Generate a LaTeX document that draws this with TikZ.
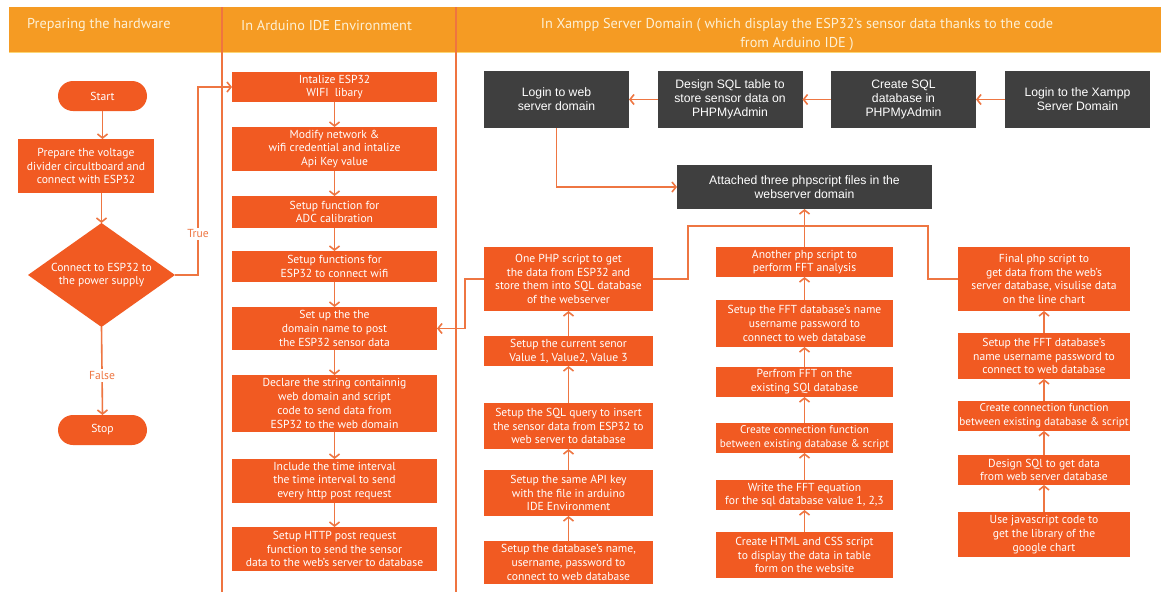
\documentclass[tikz,border=0pt]{standalone}
\usepackage{fontspec}
\setmainfont{PT Sans}
\newfontfamily\arialf{Liberation Sans}
\usetikzlibrary{arrows.meta,shapes.geometric}
\definecolor{band}{HTML}{F59B23}
\definecolor{bandline}{HTML}{FCD675}
\definecolor{headtxt}{HTML}{FDF0D5}
\definecolor{boxor}{HTML}{F15A22}
\definecolor{conncol}{HTML}{EE7642}
\definecolor{sepcol}{HTML}{EF7440}
\definecolor{darkbox}{HTML}{3F3F3F}
\begin{document}
\begin{tikzpicture}[x=1pt,y=-1pt,
  ob/.style={fill=boxor, text=white, align=center, inner sep=0pt, outer sep=0pt,
    font=\fontsize{11.6}{13.8}\selectfont},
  obtight/.style={ob, font=\fontsize{11.2}{13.8}\selectfont},
  pill/.style={ob, rounded corners=15pt, minimum width=89pt, minimum height=30pt},
  db/.style={fill=darkbox, text=white, align=center, inner sep=0pt, outer sep=0pt,
    minimum width=145pt, minimum height=57pt, font=\arialf\fontsize{12.2}{13.8}\selectfont},
  conn/.style={draw=conncol, line width=1.6pt, -{Straight Barb[length=4pt,width=10pt,line width=1.6pt]}},
  link/.style={draw=conncol, line width=1.6pt},
  lbl/.style={text=conncol, fill=white, inner sep=2pt, font=\fontsize{11.6}{13}\selectfont},
  head/.style={text=headtxt, font=\fontsize{14.3}{19}\selectfont, inner sep=0pt, align=center}
]
\useasboundingbox (0,0) rectangle (1161,592);
\fill[white] (0,0) rectangle (1161,592);
% header band
\fill[band] (9,7) rectangle (1161,52);
\draw[bandline, line width=1.5pt] (9,52.5) -- (1161,52.5);
\node[head, anchor=west] (h1) at (27,25) {Preparing the hardware};
\node[head, anchor=west] (h2) at (241,25) {In Arduino IDE Environment};
\node[head] (h3) at (797,34.5) {In Xampp Server Domain ( which display the ESP32's sensor data thanks to the code\\from Arduino IDE )};
% separators
\draw[sepcol, line width=1.6pt] (222,7) -- (222,592);
\draw[sepcol, line width=1.6pt] (456,7) -- (456,592);

% left column
\node[pill] (start) at (102.5,96) {Start};
\node[ob, minimum width=136pt, minimum height=54pt] (prep) at (86,166) {Prepare the voltage\\divider circultboard and\\connect with ESP32};
\node[ob, diamond, aspect=1.41, minimum width=147pt, minimum height=104pt] (dia) at (101.5,275) {Connect to ESP32 to\\the power supply};
\node[pill] (stop) at (102.5,430) {Stop};
\draw[conn] (start.south) -- (start.south |- prep.north);
\draw[conn] (dia.north |- prep.south) -- (dia.north);
\draw[conn] (dia.south) -- node[lbl, pos=0.55] {False} (stop.north);
\coordinate (t1) at (198,275);
\coordinate (t2) at (198,87);

% middle column
\node[ob, minimum width=205pt, minimum height=30pt] (m1) at (334.5,87) {Intalize ESP32\\WIFI\ \ libary};
\node[ob, minimum width=205pt, minimum height=44pt] (m2) at (334.5,149) {Modify network \&\\wifi credential and intalize\\Api Key value};
\node[ob, minimum width=205pt, minimum height=32pt] (m3) at (334.5,212) {Setup function for\\ADC calibration};
\node[ob, minimum width=205pt, minimum height=31pt] (m4) at (334.5,266.5) {Setup functions for\\ESP32 to connect wifi};
\node[ob, minimum width=205pt, minimum height=43pt] (m5) at (334.5,328.5) {Set up the the\\domain name to post\\the ESP32 sensor data};
\node[ob, minimum width=205pt, minimum height=57pt] (m6) at (334.5,403.5) {Declare the string containnig\\web domain and script\\code to send data from\\ESP32 to the web domain};
\node[ob, minimum width=205pt, minimum height=44pt] (m7) at (334.5,481) {Include the time interval\\the time interval to send\\every http post request};
\node[ob, minimum width=205pt, minimum height=44pt] (m8) at (334.5,549) {Setup HTTP post request\\function to send the sensor\\data to the web's server to database};
\draw[conn] (dia.east) -- (t1) -- node[lbl, pos=0.22] {True} (t2) -- (m1.west);
\draw[conn] (m1) -- (m2);
\draw[conn] (m2) -- (m3);
\draw[conn] (m3) -- (m4);
\draw[conn] (m4) -- (m5);
\draw[conn] (m5) -- (m6);
\draw[conn] (m6) -- (m7);
\draw[conn] (m7) -- (m8);

% dark top row
\node[db] (d1) at (556.5,99.5) {Login to web\\server domain};
\node[db] (d2) at (730,99.5) {Design SQL table to\\store sensor data on\\PHPMyAdmin};
\node[db] (d3) at (903.5,99.5) {Create SQL\\database in\\PHPMyAdmin};
\node[db] (d4) at (1077.5,99.5) {Login to the Xampp\\Server Domain};
\node[db, minimum width=255pt, minimum height=44pt] (att) at (804.5,187) {Attached three phpscript files in the\\webserver domain};
\draw[conn] (d4) -- (d3);
\draw[conn] (d3) -- (d2);
\draw[conn] (d2) -- (d1);
\coordinate (lc) at (556.5,187);
\draw[conn] (d1.south) -- (lc) -- (att.west);

% column A
\node[ob, minimum width=169pt, minimum height=64pt] (a1) at (568.5,279) {One PHP script to get\\the data from ESP32 and\\store them into SQL database\\of the webserver};
\node[ob, minimum width=169pt, minimum height=30pt] (a2) at (568.5,351) {Setup the current senor\\Value 1, Value2, Value 3};
\node[ob, minimum width=169pt, minimum height=46pt] (a3) at (568.5,426) {Setup the SQL query to insert\\the sensor data from ESP32 to\\web server to database};
\node[ob, minimum width=169pt, minimum height=46pt] (a4) at (568.5,493) {Setup the same API key\\with the file in arduino\\IDE Environment};
\node[ob, minimum width=169pt, minimum height=43pt] (a5) at (568.5,562.5) {Setup the database's name,\\username, password to\\connect to web database};
\draw[conn] (a5) -- (a4);
\draw[conn] (a4) -- (a3);
\draw[conn] (a3) -- (a2);
\draw[conn] (a2) -- (a1);
\coordinate (aw1) at (465,279);
\coordinate (aw2) at (465,328.5);
\draw[conn] (a1.west) -- (aw1) -- (aw2) -- (m5.east);

% column B
\node[ob, minimum width=177pt, minimum height=30pt] (b1) at (804.5,262) {Another php script to\\perform FFT analysis};
\node[ob, minimum width=177pt, minimum height=47pt] (b2) at (804.5,323.5) {Setup the FFT database's name\\username password to\\connect to web database};
\node[ob, minimum width=177pt, minimum height=30pt] (b3) at (804.5,382) {Perfrom FFT on the\\existing SQl database};
\node[obtight, minimum width=177pt, minimum height=30pt] (b4) at (804.5,438) {Create connection function\\between existing database \& script};
\node[ob, minimum width=177pt, minimum height=30pt] (b5) at (804.5,495) {Write the FFT equation\\for the sql database value 1, 2,3};
\node[ob, minimum width=177pt, minimum height=46pt] (b6) at (804.5,555) {Create HTML and CSS script\\to display the data in table\\form on the website};
\draw[conn] (b6) -- (b5);
\draw[conn] (b5) -- (b4);
\draw[conn] (b4) -- (b3);
\draw[conn] (b3) -- (b2);
\draw[conn] (b2) -- (b1);
\draw[conn] (b1.north) -- (att.south);

% column C
\node[ob, minimum width=172pt, minimum height=64pt] (c1) at (1044,279) {Final php script to\\get data from the web's\\server database, visulise data\\on the line chart};
\node[ob, minimum width=172pt, minimum height=46pt] (c2) at (1044,356) {Setup the FFT database's\\name username password to\\connect to web database};
\node[obtight, minimum width=172pt, minimum height=30pt] (c3) at (1044,416) {Create connection function\\between existing database \& script};
\node[ob, minimum width=172pt, minimum height=30pt] (c4) at (1044,470) {Design SQl to get data\\from web server database};
\node[ob, minimum width=172pt, minimum height=45pt] (c5) at (1044,534.5) {Use javascript code to\\get the library of the\\google chart};
\draw[conn] (c5) -- (c4);
\draw[conn] (c4) -- (c3);
\draw[conn] (c3) -- (c2);
\draw[conn] (c2) -- (c1);

% bus to attached box
\coordinate (bus) at (804.5,226);
\coordinate (ae1) at (688,279);
\coordinate (ae2) at (688,226);
\coordinate (ce1) at (928,279);
\coordinate (ce2) at (928,226);
\draw[link] (a1.east) -- (ae1) -- (ae2) -- (bus);
\draw[link] (c1.west) -- (ce1) -- (ce2) -- (bus);
\end{tikzpicture}
\end{document}
